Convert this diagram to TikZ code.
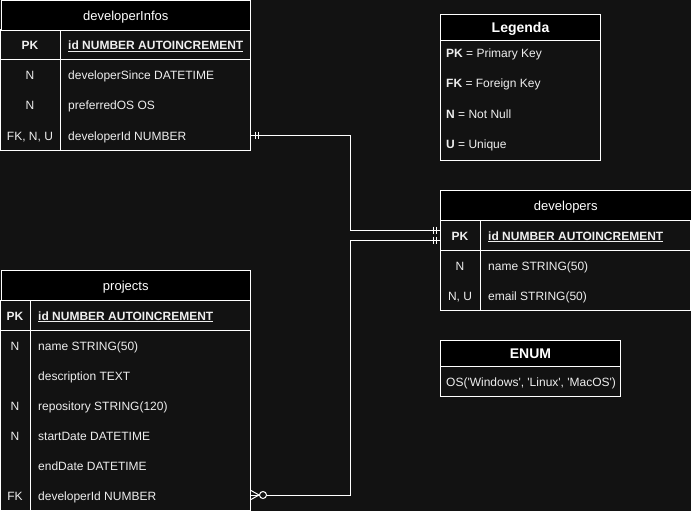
\documentclass[tikz,border=0pt]{standalone}
\usepackage{fontspec}
\setmainfont{Liberation Sans}
\usepackage{tikz}
\usepackage{xcolor}
\definecolor{canvas}{HTML}{121212}
\definecolor{ink}{HTML}{EEEEEE}
\newcommand{\pkfield}[1]{\underline{\textbf{#1}}}
\newcommand{\sq}{\textquotesingle}
\tikzset{
    table-line/.style = {draw=white, line width=1pt},
    table-title/.style = {draw=white, fill=black, text=white, line width=1pt, anchor=north west, minimum height=30pt, inner sep=0pt, text height=10pt, text depth=0pt, font=\fontsize{13}{15}\selectfont},
    legend-title/.style = {table-title, minimum height=26pt, font=\fontsize{14}{16}\selectfont\bfseries},
    key-cell/.style = {text=ink, inner sep=0pt, text height=10pt, text depth=0pt},
    field-cell/.style = {text=ink, anchor=west, inner sep=0pt, text height=10pt, text depth=0pt},
    er-line/.style = {draw=white, line width=1pt},
}

\begin{document}
\begin{tikzpicture}[x=1pt, y=-1pt, every node/.style={font=\fontsize{12}{14}\selectfont}]
\useasboundingbox[fill=canvas] (0,0) rectangle (691,511);

% developerInfos
\draw[table-line] (0.5,30) rectangle (250,150);
\draw[table-line] (0.5,60) -- (250,60);
\draw[table-line] (60,30) -- (60,150);
\node[table-title, minimum width=249.5pt] (infos) at (0.5,0.5) {developerInfos};
\foreach \key/\field [count=\i] in {\textbf{PK}/\pkfield{id NUMBER AUTOINCREMENT}, N/developerSince DATETIME, N/preferredOS OS, {FK, N, U}/developerId NUMBER} {
    \node[key-cell] (infos-key-\i) at (30,15+30*\i) {\key};
    \node[field-cell] (infos-field-\i) at (68,15+30*\i) {\field};
}

% developers
\draw[table-line] (440,220) rectangle (690.5,310);
\draw[table-line] (440,250) -- (690.5,250);
\draw[table-line] (480,220) -- (480,310);
\node[table-title, minimum width=250.5pt] (devs) at (440,190) {developers};
\foreach \key/\field [count=\i] in {\textbf{PK}/\pkfield{id NUMBER AUTOINCREMENT}, N/name STRING(50), {N, U}/email STRING(50)} {
    \node[key-cell] (devs-key-\i) at (460,205+30*\i) {\key};
    \node[field-cell] (devs-field-\i) at (488,205+30*\i) {\field};
}

% projects
\draw[table-line] (0.5,300) rectangle (250,510);
\draw[table-line] (0.5,330) -- (250,330);
\draw[table-line] (30,300) -- (30,510);
\node[table-title, minimum width=249.5pt] (projs) at (0.5,270) {projects};
\foreach \key/\field [count=\i] in {\textbf{PK}/\pkfield{id NUMBER AUTOINCREMENT}, N/name STRING(50), /description TEXT, N/repository STRING(120), N/startDate DATETIME, /endDate DATETIME, FK/developerId NUMBER} {
    \node[key-cell] (projs-key-\i) at (15,285+30*\i) {\key};
    \node[field-cell] (projs-field-\i) at (38,285+30*\i) {\field};
}

% Legenda
\draw[table-line] (440,40) rectangle (600,160);
\node[legend-title, minimum width=160pt] (legend) at (440,14) {Legenda};
\foreach \item [count=\i] in {{\textbf{PK} = Primary Key}, {\textbf{FK} = Foreign Key}, {\textbf{N} = Not Null}, {\textbf{U} = Unique}} {
    \node[field-cell] (legend-\i) at (446,23+30*\i) {\item};
}

% ENUM
\draw[table-line] (440,366) rectangle (620,396);
\node[legend-title, minimum width=180pt] (enum) at (440,340) {ENUM};
\node[field-cell] (enum-os) at (446,381) {OS(\sq Windows\sq, \sq Linux\sq, \sq MacOS\sq)};

% relations
\coordinate (bend) at (350,0);
\coordinate (infos-out) at (infos-field-4 -| infos.east);
\coordinate (devs-in) at ([yshift=5pt]devs-key-1.west -| devs.west);
\coordinate (devs-out) at ([yshift=-5pt]devs-key-1.west -| devs.west);
\coordinate (projs-in) at (projs-field-7 -| projs.east);
\draw[er-line] (infos-out) -- (infos-out -| bend) |- (devs-in);
\draw[er-line] (devs-out) -| (bend |- projs-in) -- (projs-in);
% one and only one
\draw[er-line] ([xshift=4pt]infos-out) ++(0,-3.5) -- ++(0,7);
\draw[er-line] ([xshift=7pt]infos-out) ++(0,-3.5) -- ++(0,7);
\draw[er-line] ([xshift=-4pt]devs-in) ++(0,-3.5) -- ++(0,7);
\draw[er-line] ([xshift=-7pt]devs-in) ++(0,-3.5) -- ++(0,7);
\draw[er-line] ([xshift=-4pt]devs-out) ++(0,-3.5) -- ++(0,7);
\draw[er-line] ([xshift=-7pt]devs-out) ++(0,-3.5) -- ++(0,7);
% zero or many
\draw[er-line] ([yshift=4.5pt]projs-in) -- ([xshift=8pt]projs-in) -- ([yshift=-4.5pt]projs-in);
\draw[er-line, fill=canvas] ([xshift=12pt]projs-in) circle (3.5pt);
\end{tikzpicture}
\end{document}
